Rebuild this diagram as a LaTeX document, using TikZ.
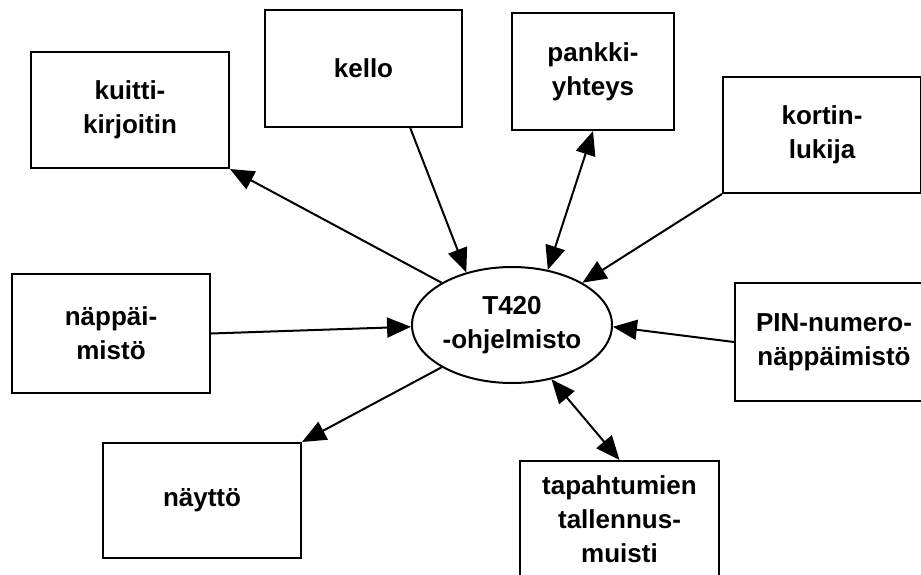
\documentclass[tikz,border=0pt]{standalone}
\usepackage{fontspec}
\setmainfont{Liberation Sans}
\usetikzlibrary{arrows.meta,calc,shapes.geometric}
\begin{document}
\begin{tikzpicture}[x=1pt,y=-1pt,
  box/.style={draw,line width=2pt,align=center,inner sep=0pt,font=\fontsize{26}{34}\selectfont\bfseries},
  prog/.style={draw,ellipse,line width=2pt,align=center,inner sep=0pt,minimum width=200pt,minimum height=116pt,font=\fontsize{26}{34}\selectfont\bfseries},
  conn/.style={line width=2pt},
  tip/.tip={Triangle[length=24pt,width=20pt]}]
\useasboundingbox (0,0) rectangle (921,574);
\node[prog] (e) at (512,325) {T420\\-ohjelmisto};
\node[box,minimum width=198pt,minimum height=116pt] (kuitti) at (130,110) {kuitti-\\kirjoitin};
\node[box,minimum width=197pt,minimum height=117pt] (kello) at (363.5,68.5) {kello};
\node[box,minimum width=162pt,minimum height=117pt] (pankki) at (593,71.5) {pankki-\\yhteys};
\node[box,minimum width=198pt,minimum height=116pt] (kortin) at (822,135) {kortin-\\lukija};
\node[box,minimum width=198pt,minimum height=119pt] (napp) at (111,333.5) {näppäi-\\mistö};
\node[box,minimum width=198pt,minimum height=118pt] (pin) at (834,342) {PIN-numero-\\näppäimistö};
\node[box,minimum width=198pt,minimum height=115pt] (naytto) at (202,500.5) {näyttö};
\node[box,minimum width=199pt,minimum height=116pt] (tap) at (619.5,519) {tapahtumien\\tallennus-\\muisti};
\draw[conn,-tip] (e.149) -- (kuitti.south east);
\draw[conn,-tip] ($(kello.south)!0.47!(kello.south east)$) -- (e.131);
\draw[conn,tip-tip] (pankki.south) -- (e.57);
\draw[conn,-tip] (kortin.south west) -- (e.31);
\draw[conn,-tip] (napp.east) -- (e.181);
\draw[conn,-tip] (pin.west) -- (e.359);
\draw[conn,-tip] (e.211) -- (naytto.north east);
\draw[conn,tip-tip] (e.306) -- (tap.north);
\end{tikzpicture}
\end{document}
